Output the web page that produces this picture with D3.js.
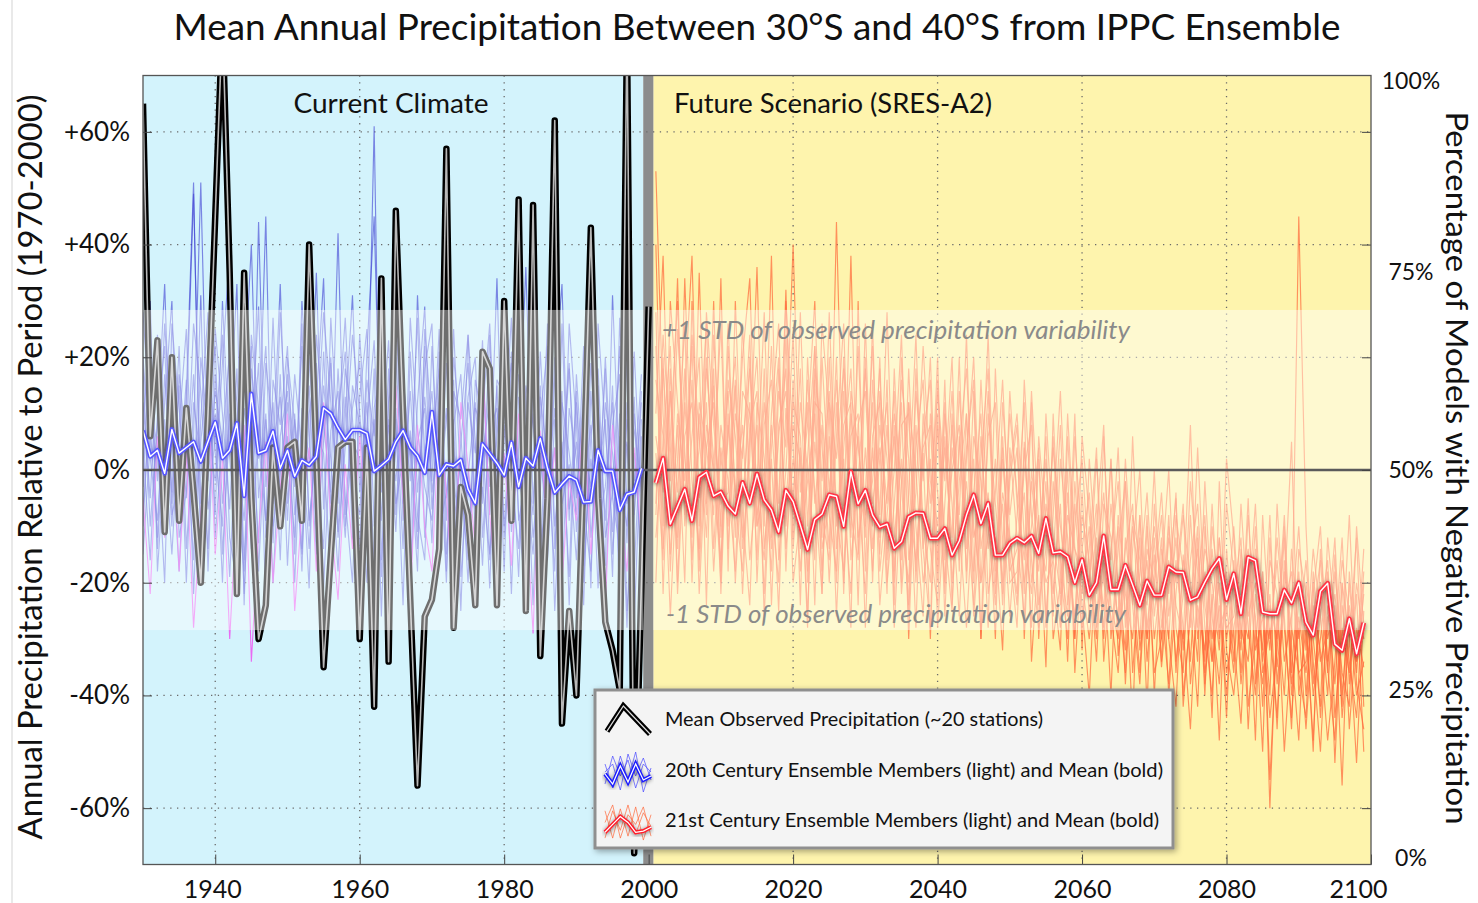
<!DOCTYPE html>
<html><head><meta charset="utf-8">
<script src="https://cdn.jsdelivr.net/npm/d3@7"></script>
<style>
body{margin:0;background:#fff;}
svg{display:block;font-family:Lato,"Open Sans",sans-serif;}
</style>
</head><body>
<svg id="c" width="1478" height="903"></svg>
<script>
// ---------------- DATA ----------------
const xTicks = [1940, 1960, 1980, 2000, 2020, 2040, 2060, 2080, 2100];
const yTicks = [-60, -40, -20, 0, 20, 40, 60];
const rightTicks = [0, 25, 50, 75, 100];
const stdBand = 28.4;

const obsStart = 1930;
const observed = [65, 6, 23, -11, 20, -9, 11, -4, -20, 10,
  45, 80, 35, -22, 35, -5, -30, -24, 4, -10,
  4, 5, -9, 40, 2, -35, -15, 4, 5, 5,
  -30, 4, -42, 34, -34, 46, 10, -23, -56, -26,
  -23, -14, 57, -28, -3, -8, -24, 21, 18, -24,
  30, -9, 48, -25, 47, -33, -5, 62, -45, -25,
  -40, 0, 43, -5, -27, -32, -39, 78, -68, -20, 29];

const ens20Start = 1930;
const ens20Mean = [7, 2.4, 3.5, -0.6, 7.2, 3, 4, 5, 1.5, 5,
  8.5, 2.1, 3.5, 8.3, -4.6, 13.5, 3, 3.5, 6.9, 0.3,
  3.5, -1.1, 1.7, 0.9, 2.4, 11, 10, 7.5, 5.4, 7.1,
  7.1, 6.5, -0.2, 0.8, 1.9, 5, 7, 4, 2.5, -0.5,
  10.3, -0.9, 1, 0.7, 1.8, -3.4, -5.9, 4.6, 2.9, 1.2,
  -0.9, 4.9, -3, 2.1, 0.7, 5.6, 0.3, -4, -2.5, -1.1,
  -1.8, -5.7, -5.6, 3.5, -0.2, -0.2, -7.1, -4.3, -3.9, 0.3];

const m20a = [12,-5,20,3,-15,8,25,-10,5,18, -8,30,2,-12,15,40,-5,10,-20,6, 14,-3,22,-9,4,28,12,-6,18,9,
  -14,21,45,-4,8,-11,16,3,-18,25, 7,-2,11,-15,5,19,-7,2,13,-22, 8,-4,17,6,-12,3,-9,20,-6,1, -16,9,24,-10,-3,12,-20,5,-8,14];
const m20b = [-10,15,-2,26,4,-18,10,49,-6,12, 22,-15,8,33,-24,18,5,-9,27,-4, 6,-20,11,2,35,-7,19,-12,4,24,
  10,-6,-22,14,3,30,-9,7,-14,18, 26,-11,-4,9,-25,12,3,20,-8,15, -18,21,-3,10,28,-13,-5,4,-20,11, 2,-24,14,-7,18,-15,6,-28,10,-4];
const m20c = [28,8,-12,17,-4,22,-14,6,51,-2, 14,5,-19,9,24,-11,44,-3,12,-16, 20,8,-14,26,-5,15,2,-18,9,31,
  -4,12,-17,6,23,-8,16,-2,27,-12, 4,18,-9,25,-3,-16,11,7,-21,16, 13,-7,30,-2,-15,9,22,-10,5,-19, 17,-4,8,-21,12,3,-13,20,-27,6];
const m20d = [-5,-22,6,-12,10,-18,3,-28,-8,14, -15,2,-30,-6,8,-34,-11,5,-20,-3, 10,-25,-7,4,-18,12,-9,-23,1,-14,
  6,-12,-30,3,-16,15,-5,-24,8,-10, -18,9,-4,-26,12,1,-14,20,-8,-22, 3,-17,10,-6,-29,7,-12,4,-20,-2, -9,11,-15,2,-25,8,-6,-18,4,-12];
const m20e = [18,-10,8,33,-6,15,-20,12,2,-14, 25,10,-7,18,-16,6,29,-12,4,13, -9,17,3,-21,24,8,-4,42,-8,11,
  19,-3,9,-19,13,37,-6,4,-11,22, -7,14,28,-10,2,-20,16,9,-3,34, -12,6,-19,15,8,-4,26,-14,12,3, -8,22,-12,4,-17,31,-2,-10,13,-23];
const m20f = [-15,5,24,-8,12,-3,6,-16,20,7, -2,19,39,-14,3,22,-18,9,-6,28, 3,-12,30,7,-15,5,20,-11,13,-6,
  24,2,61,-16,9,-2,14,-20,5,11, -13,21,-5,8,17,-9,-22,10,26,-4, 9,19,-8,-23,14,2,-10,16,33,-7, 5,-13,19,-2,9,-19,27,-6,3,-15];
const m20g = [6,30,-18,2,20,-9,14,51,-12,3, 10,-20,16,4,-9,13,2,45,-13,17, -17,9,-3,15,-12,21,-6,8,27,-2,
  -8,16,6,25,-14,4,20,-12,31,2, 14,-6,19,-2,-12,24,5,-17,10,-8, 20,-11,4,36,-6,15,-16,9,-2,18, -5,14,-21,26,7,-11,10,4,-18,9];
const m20h = [-8,12,4,-20,26,11,-5,17,-11,22, 3,-10,24,12,-22,8,-13,19,7,-9, 17,2,-15,10,19,-21,7,14,-10,5,
  2,-20,11,18,-6,9,-24,21,-4,13, -2,25,-15,4,-8,13,20,-12,7,11, -10,12,2,-14,19,-20,8,-3,14,-24, 12,-6,-18,11,-9,15,-24,12,7,-3];
const m20i = [4,-16,10,22,-8,-2,16,-22,9,28, -12,6,21,-4,-18,24,11,-9,3,33, -6,10,-18,20,-2,-14,27,4,-12,15,
  8,-9,18,-26,12,20,-3,14,-8,-16, 22,-4,9,16,-19,-1,12,-6,24,-10, 5,27,-9,-2,10,-16,14,-25,2,19, -11,4,-3,15,-22,8,17,-13,21,-6];
const m20j = [20,2,-9,12,30,-12,-4,26,14,-7, 6,24,-12,-20,11,2,19,-24,16,8, 22,-8,5,-14,12,34,-11,18,-5,-20,
  13,25,-10,2,-20,11,-14,27,7,-3, -9,12,-18,20,6,-12,-2,23,-16,9, 16,-22,13,4,-8,21,-4,11,-13,26, 8,-17,2,-9,20,-5,-14,9,-2,17];
const m20k = [-3,24,-14,9,-10,17,4,-8,31,-18, 17,-6,10,-3,28,-14,7,22,-10,-1, 12,-15,26,-10,6,3,-19,10,21,-12,
  -16,8,23,-9,18,-6,2,-18,12,29, -4,7,-20,14,9,24,-12,-3,-15,6, 21,-2,-14,8,-24,13,2,-18,26,-9, 14,-20,6,18,-12,-4,22,-25,-8,12];
const ens20Members = [m20a, m20b, m20c, m20e, m20f, m20g, m20h, m20i, m20j, m20k];
const ens20Pink = m20d;

const ens21Start = 2001;
const ens21Mean = [-2.3, 2.1, -9.6, -6.5, -3.4, -9, -1.3, -0.4, -4.6, -3.9,
  -6.4, -7.8, -2.2, -5.9, -0.7, -5.3, -7.1, -11, -3.6, -5.6,
  -9.8, -14.1, -8.8, -7.8, -4.4, -4.7, -10, -0.3, -6, -3.6,
  -8, -10.1, -9.6, -13.9, -12.7, -8.3, -7.6, -7.7, -12.1, -12.1,
  -10.4, -15.1, -12.6, -8, -4.4, -9.5, -5.9, -15.1, -15.1, -13,
  -12.1, -12.9, -11.7, -14.8, -8.6, -14.7, -14.5, -15.4, -20, -15.9,
  -22.2, -20, -11.7, -21.2, -21.2, -16.9, -20.4, -24, -19.7, -22.2,
  -22.2, -17.2, -18.1, -18.2, -23.1, -22.5, -19.9, -17.5, -15.7, -23,
  -18.4, -25.5, -15.5, -16.1, -25.2, -25.5, -25.5, -21.3, -23.6, -20,
  -27, -29.3, -21.5, -20.1, -30.9, -32, -26.4, -32.6, -27.1];

const f1 = [53,10,-15,8,-20,30,-5,12,-18,4, -10,15,-22,6,20,-14,2,-25,11,-6, 18,-20,5,-12,28,-8,-18,10,-3,-22,
  4,-15,16,-28,-2,12,-20,3,-30,8, -12,-25,6,-18,14,-30,-5,-22,2,-15, -28,5,-20,-8,-35,10,-18,-30,-6,-24,
  -40,-12,-25,2,-33,-18,-45,-8,-28,-15, -35,-20,-5,-42,-25,-10,-38,-22,-48,-14, -30,-45,-18,-26,-50,-12,-35,-22,5,-40,
  -28,-48,-20,-36,-15,-44,-30,-52,-25];
const f2 = [10,38,-8,25,2,-12,35,-6,15,-18, 22,-5,8,-16,-2,28,-12,6,18,-20, -8,12,-24,20,-4,16,-10,38,-15,4,
  -18,8,-6,14,-22,-4,24,-14,2,-20, 10,-6,-26,2,20,-14,-4,-30,12,-8, 4,-22,12,-30,-6,-16,8,-24,-10,2,
  -18,-30,6,-22,-10,-38,-14,0,-30,-20, -8,-30,-42,-15,-28,4,-24,-34,-12,-26, -10,-30,-5,-38,-20,-55,-28,-8,-36,-18,
  -40,-22,-10,-35,-48,-20,-30,-12,-42];
const f3 = [-12,5,22,-20,12,-8,4,26,-14,8, -2,-18,14,10,-10,-4,38,-16,0,24, -14,-2,10,-18,6,-20,14,-12,22,-10,
  12,-24,-8,6,-16,18,-10,-26,10,-4, -20,8,-10,-28,-4,10,-22,-12,-32,4, -12,-26,-2,-16,6,-30,-20,0,-36,-14,
  -4,-26,-16,-40,-8,-22,-30,-12,-42,-6, -24,-38,-16,-28,-46,-20,-8,-34,-24,-40, -22,-12,-42,-30,-18,-60,-25,-40,-14,-30,
  -16,-34,-50,-24,-38,-20,-46,-28,-35];
const f4 = [28,-22,14,-4,18,-16,10,-8,30,-12, 6,20,-8,-24,12,2,-14,18,-10,8, 2,-28,18,4,-14,44,-6,-22,8,14,
  -10,20,-20,-6,12,-30,4,16,-14,-24, 6,-16,14,-8,-24,2,18,-18,-6,-26, -8,12,-34,-14,2,-20,-32,6,-18,-28,
  -14,4,-34,-18,-26,2,-20,-36,-10,-30, -18,0,-28,-36,-8,-30,-18,-44,-2,-32, -40,-24,-30,-10,-36,-28,-44,-16,-32,-48,
  -20,-30,-42,-12,-26,-56,-18,-34,-22];
const f5 = [3,-16,30,12,-6,22,-18,8,0,26, -14,10,2,24,-20,8,16,-6,32,-12, 12,0,-16,26,10,-26,4,18,-12,-4,
  22,-12,8,-18,16,2,-28,10,-6,14, -2,20,-18,10,-12,-6,24,-16,4,-20, -18,0,8,-24,-14,4,-10,-20,10,-32,
  2,-16,-28,-6,-20,-32,6,-24,-16,-36, -30,-12,-20,-6,-38,-24,-32,-14,-30,2, -12,-36,-20,-48,-8,-30,-16,-34,-26,-10,
  -32,-14,-26,-40,-18,-32,-8,-38,-46];
const f6 = [-20,18,-2,34,-10,6,20,-24,24,0, 14,-12,26,-4,8,-22,10,26,-18,16, -24,20,-6,8,-20,6,26,-16,-2,18,
  -6,4,-22,18,-10,-20,14,-2,20,-16, 16,-24,4,18,-10,-20,6,12,-22,0, 10,-12,-22,2,-26,-8,14,-16,-26,-4,
  -26,-10,8,-30,-14,-2,-36,-18,-4,-26, -12,-40,-22,-8,-20,-34,-2,-26,-38,-18, -34,-6,-26,-20,-42,-16,-22,-50,-30,45,
  -10,-38,-26,-16,-44,-28,-36,-20,-30];
const f7 = [16,6,-26,2,26,-20,12,4,-8,34, -18,30,-6,12,-16,18,-24,8,14,-8, 28,-10,16,-22,20,-10,2,-28,30,-18,
  16,-8,28,-12,2,-24,18,-10,-20,10, -26,4,-8,24,-18,6,-14,-4,16,-12, -22,16,-8,-18,-2,-26,2,-12,-30,6,
  -8,-22,-12,-16,4,-28,-10,-20,-24,0, -28,-16,-34,-22,8,-28,-14,-20,-32,-6, -18,-28,-34,-14,-24,-40,-6,-28,-44,-22,
  -26,-50,-14,-30,-22,-36,-42,-10,-28];
const f8 = [-6,24,4,-14,14,38,-10,20,-2,-16, 8,-4,20,34,-8,0,-18,14,4,40, -4,8,30,-8,-16,12,-20,6,10,-28,
  6,12,-14,0,24,-16,-4,22,-2,-10, 4,-12,20,-20,6,-2,-28,18,-14,10, -4,-16,14,-10,-20,-16,-28,10,-14,-18,
  -20,2,-20,-26,-36,-12,-24,-8,-34,-18, -4,-26,-12,-32,-16,-6,-28,-40,-16,-28, -26,-16,-46,-22,-32,-8,-38,-24,-18,-36,
  -44,-18,-34,-28,-12,-40,-24,-34,-14];
const f9 = [40,-10,18,-22,6,12,-16,28,8,-6, -4,16,-14,2,36,-10,22,-12,-6,12, 6,-18,22,-2,14,-14,8,12,-24,20,
  -20,14,2,-20,8,10,-18,6,16,-28, -6,14,-14,-2,-20,16,-10,-24,6,-18, -14,-4,-28,6,-10,-22,-6,-34,-2,-20,
  -30,-16,-4,-24,-30,-14,-6,-32,-20,-10, -20,-30,-8,-18,-34,-12,-40,-10,-22,-36, -28,-20,-14,-32,-26,-44,-32,-12,-40,-26,
  -36,-24,-32,-48,-34,-16,-26,-40,-34];
const f10 = [22,-14,6,30,-8,16,-22,4,12,-10, 26,-6,-18,8,14,-26,4,20,-14,2, -12,16,-4,-22,12,2,18,-8,-16,26,
  -14,2,12,-24,20,-6,-16,4,8,-18, 12,-20,-2,10,-26,-8,14,-20,-4,-12, -24,4,-16,-28,10,-12,-22,-4,-30,-8,
  -16,-34,-6,-12,-28,-2,-24,-38,-14,-20, -30,-8,-36,-16,-24,-42,-10,-30,-20,-44, -16,-38,-24,-6,-34,-22,-46,-18,-28,-36,
  -34,-20,-44,-26,-30,-12,-38,-22,-50];
const f11 = [-8,20,-18,10,-2,24,6,-12,18,-22, 10,-20,4,18,-10,12,-6,-20,24,-14, 4,-26,12,10,-8,-18,20,-4,6,-12,
  26,-18,-4,10,-2,-26,8,-14,-28,16, -16,0,8,-14,2,-30,10,-6,-20,14, -6,-20,-10,4,-28,-2,-16,-26,6,-14,
  -20,-6,-30,-14,-2,-26,-18,-30,-8,-40, -14,-22,-4,-40,-26,-14,-34,-6,-28,-24, -36,-14,-28,-40,-18,-32,-12,-26,-46,-14,
  -22,-40,-30,-18,-52,-24,-34,-44,-20];
const f12 = [6,-4,14,-12,34,-2,-14,18,2,-20, 16,6,-12,20,-4,-16,8,-10,30,4, -18,2,22,-14,-6,20,-22,14,4,-8,
  -2,18,-16,8,-20,12,0,-20,-10,20, -22,10,-16,4,16,-20,-12,2,-24,-2, 8,-30,0,-12,-18,6,-24,-8,-14,-22,
  -10,-28,-18,2,-22,-36,-8,-16,-30,-12, -34,-10,-24,-30,-2,-18,-36,-24,-12,-30, -20,-32,-8,-28,-38,-24,-30,-10,-38,-28,
  -46,-26,-16,-34,-24,-42,-20,-36,-18];
const ens21Members = [f1, f2, f3, f4, f5, f6, f7, f8, f9, f10, f11, f12];

// legend glyph shapes (normalised 0..1)
const iconObs = [[0, 0.9], [0.38, 0], [1, 1]];
const iconMean20 = [0.55, 0.8, 0.35, 0.75, 0.3, 0.7, 0.6];
const iconMem20 = [[0.3, 0.9, 0.1, 0.7, 0.0, 1.0, 0.4], [0.8, 0.1, 0.6, 0.2, 0.9, 0.3, 0.5], [0.5, 0.3, 0.95, 0.05, 0.6, 0.15, 0.7]];
const iconMean21 = [0.75, 0.55, 0.35, 0.5, 0.75, 0.72, 0.62];
const iconMem21 = [[0.2, 0.9, 0.15, 0.85, 0.1, 0.95, 0.3], [0.9, 0.2, 0.7, 0.05, 0.8, 0.25, 0.6], [0.5, 0.05, 0.9, 0.3, 0.55, 0.1, 0.85]];

// ---------------- LAYOUT ----------------
const L = 143, R = 1371, T = 75.5, B = 864.5;
const x = d3.scaleLinear().domain([1930, 2100]).range([L, R]);
const y = d3.scaleLinear().domain([-70, 70]).range([B, T]);
const yRight = d3.scaleLinear().domain([0, 25, 50, 75, 100]).range([858, 690, 470, 272, 81]);
const pts = (start, arr) => arr.map((v, i) => [start + i, v]);
const line = d3.line().x(d => x(d[0])).y(d => y(d[1]));
const barL = x(1999.25), barR = x(2000.65);

const svg = d3.select("#c");
const defs = svg.append("defs");
defs.append("clipPath").attr("id", "pc").append("rect")
  .attr("x", L).attr("y", T).attr("width", R - L).attr("height", B - T);
const fg = defs.append("filter").attr("id", "glow").attr("x", "-5%").attr("y", "-30%").attr("width", "110%").attr("height", "160%");
fg.append("feDropShadow").attr("dx", 0).attr("dy", 1).attr("stdDeviation", 2.2)
  .attr("flood-color", "#000").attr("flood-opacity", 0.55);
const fb = defs.append("filter").attr("id", "glowB").attr("x", "-5%").attr("y", "-30%").attr("width", "110%").attr("height", "160%");
fb.append("feDropShadow").attr("dx", 0).attr("dy", 0).attr("stdDeviation", 2)
  .attr("flood-color", "#1010a0").attr("flood-opacity", 0.35);
const fl = defs.append("filter").attr("id", "lshadow").attr("x", "-5%").attr("y", "-10%").attr("width", "115%").attr("height", "130%");
fl.append("feDropShadow").attr("dx", 2).attr("dy", 2).attr("stdDeviation", 3)
  .attr("flood-color", "#000").attr("flood-opacity", 0.35);

svg.append("rect").attr("width", 1478).attr("height", 903).attr("fill", "#fff");
svg.append("line").attr("x1", 12).attr("x2", 12).attr("y1", 0).attr("y2", 903)
  .attr("stroke", "#e2e2e2").attr("stroke-width", 1.5);

// title
svg.append("text").attr("x", 757).attr("y", 40).attr("text-anchor", "middle")
  .attr("font-size", 37).attr("fill", "#111")
  .attr("textLength", 1167).attr("lengthAdjust", "spacingAndGlyphs")
  .text("Mean Annual Precipitation Between 30°S and 40°S from IPPC Ensemble");

const plot = svg.append("g").attr("clip-path", "url(#pc)");
// backgrounds
plot.append("rect").attr("x", L).attr("y", T).attr("width", barL - L).attr("height", B - T).attr("fill", "#d3f3fc");
plot.append("rect").attr("x", barR).attr("y", T).attr("width", R - barR).attr("height", B - T).attr("fill", "#fef4ad");
plot.append("rect").attr("x", barL).attr("y", T).attr("width", barR - barL).attr("height", B - T).attr("fill", "#8c8c8c");

// gridlines
const grid = plot.append("g").attr("stroke", "#6a6a6a").attr("stroke-width", 1.3).attr("stroke-dasharray", "1.3,5.5");
grid.selectAll(".gx").data(xTicks.filter(d => d !== 2000 && d !== 2100)).join("line")
  .attr("x1", d => x(d)).attr("x2", d => x(d)).attr("y1", T).attr("y2", B);
grid.selectAll(".gy").data(yTicks.filter(d => d !== 0)).join("line")
  .attr("x1", L).attr("x2", R).attr("y1", d => y(d)).attr("y2", d => y(d));

// 20th century members
plot.append("g").selectAll("path").data(ens20Members).join("path")
  .attr("d", d => line(pts(ens20Start, d))).attr("fill", "none")
  .attr("stroke", "#3c3cd2").attr("stroke-opacity", 0.6).attr("stroke-width", 1.15);
plot.append("path").attr("d", line(pts(ens20Start, ens20Pink))).attr("fill", "none")
  .attr("stroke", "#f23cf0").attr("stroke-opacity", 0.75).attr("stroke-width", 1.1);
// 21st century members
plot.append("g").selectAll("path").data(ens21Members).join("path")
  .attr("d", d => line(pts(ens21Start, d))).attr("fill", "none")
  .attr("stroke", "#ff6a3c").attr("stroke-opacity", 0.72).attr("stroke-width", 1.15);

// observed
const obsD = line(pts(obsStart, observed));
plot.append("path").attr("d", obsD).attr("fill", "none").attr("stroke", "#000")
  .attr("stroke-width", 6.5).attr("stroke-linejoin", "round");
plot.append("path").attr("d", obsD).attr("fill", "none").attr("stroke", "#b8b8b8")
  .attr("stroke-width", 1.6).attr("stroke-linejoin", "round");

// +/- 1 STD band overlay (both sides of the 2000 bar)
plot.append("g").selectAll("rect").data([[L, barL], [barR, R]]).join("rect")
  .attr("x", d => d[0]).attr("width", d => d[1] - d[0])
  .attr("y", y(stdBand)).attr("height", y(-stdBand) - y(stdBand))
  .attr("fill", "#fff").attr("fill-opacity", 0.43);

// zero line
plot.append("line").attr("x1", L).attr("x2", R).attr("y1", y(0)).attr("y2", y(0))
  .attr("stroke", "#5a5a5a").attr("stroke-width", 2.6);

// ensemble means (bold)
const m20D = line(pts(ens20Start, ens20Mean));
plot.append("path").attr("d", m20D).attr("fill", "none").attr("stroke", "#5656ff")
  .attr("stroke-width", 4.6).attr("stroke-linejoin", "round").attr("filter", "url(#glowB)");
plot.append("path").attr("d", m20D).attr("fill", "none").attr("stroke", "#fff")
  .attr("stroke-width", 1.4).attr("stroke-linejoin", "round");
const m21D = line(pts(ens21Start, ens21Mean));
plot.append("path").attr("d", m21D).attr("fill", "none").attr("stroke", "#ff3445")
  .attr("stroke-width", 4.8).attr("stroke-linejoin", "round").attr("filter", "url(#glow)");
plot.append("path").attr("d", m21D).attr("fill", "none").attr("stroke", "#fff")
  .attr("stroke-width", 1.4).attr("stroke-linejoin", "round");

// band texts
svg.append("text").attr("x", 662).attr("y", 339).attr("font-size", 25).attr("font-style", "italic")
  .attr("fill", "#8a8a8a").attr("textLength", 468).attr("lengthAdjust", "spacingAndGlyphs")
  .text("+1 STD of observed precipitation variability");
svg.append("text").attr("x", 666).attr("y", 623).attr("font-size", 25).attr("font-style", "italic")
  .attr("fill", "#8a8a8a").attr("textLength", 460).attr("lengthAdjust", "spacingAndGlyphs")
  .text("-1 STD of observed precipitation variability");

// panel labels
svg.append("text").attr("x", 391).attr("y", 113).attr("text-anchor", "middle").attr("font-size", 27)
  .attr("fill", "#111").attr("textLength", 195).attr("lengthAdjust", "spacingAndGlyphs").text("Current Climate");
svg.append("text").attr("x", 674).attr("y", 113).attr("font-size", 27)
  .attr("fill", "#111").attr("textLength", 318).attr("lengthAdjust", "spacingAndGlyphs").text("Future Scenario (SRES-A2)");

// axes
const fmtY = d => (d > 0 ? "+" : "") + d + "%";
const ax = svg.append("g").attr("transform", `translate(${L},0)`)
  .call(d3.axisLeft(y).tickValues(yTicks).tickSize(-9).tickPadding(13).tickFormat(fmtY));
ax.select(".domain").remove();
ax.selectAll("text").attr("font-size", 26).attr("font-family", "Lato, sans-serif").attr("fill", "#111");
ax.selectAll("line").attr("stroke", "#444");

const axR = svg.append("g").attr("transform", `translate(${R},0)`)
  .call(d3.axisRight(y).tickValues(yTicks).tickSize(-9).tickFormat(""));
axR.select(".domain").remove();
axR.selectAll("line").attr("stroke", "#444");

const bx = svg.append("g").attr("transform", `translate(0,${B})`)
  .call(d3.axisBottom(x).tickValues(xTicks).tickSize(-10).tickPadding(16).tickFormat(d3.format("d")));
bx.select(".domain").remove();
bx.selectAll("text").attr("font-size", 25).attr("font-family", "Lato, sans-serif").attr("fill", "#111")
  .attr("dx", d => d === 2100 ? -13 : (d === 1940 ? -3 : 0));
bx.selectAll("line").attr("stroke", "#444");

// right percentage labels
svg.append("g").selectAll("text").data(rightTicks).join("text")
  .attr("x", 1411).attr("y", d => yRight(d)).attr("dy", "0.35em").attr("text-anchor", "middle")
  .attr("font-size", 23).attr("fill", "#111").text(d => d + "%");

// plot border
svg.append("rect").attr("x", L).attr("y", T).attr("width", R - L).attr("height", B - T)
  .attr("fill", "none").attr("stroke", "#555").attr("stroke-width", 1.3);

// axis titles
svg.append("text").attr("transform", "translate(42,467) rotate(-90)").attr("text-anchor", "middle")
  .attr("font-size", 32).attr("fill", "#111").attr("textLength", 745).attr("lengthAdjust", "spacingAndGlyphs")
  .text("Annual Precipitation Relative to Period  (1970-2000)");
svg.append("text").attr("transform", "translate(1446,468) rotate(90)").attr("text-anchor", "middle")
  .attr("font-size", 31).attr("fill", "#111").attr("textLength", 713).attr("lengthAdjust", "spacingAndGlyphs")
  .text("Percentage of Models with Negative Precipitation");

// legend
const lg = svg.append("g");
lg.append("rect").attr("x", 595).attr("y", 690).attr("width", 578).attr("height", 158)
  .attr("fill", "#f4f4f4").attr("stroke", "#8f8f8f").attr("stroke-width", 3).attr("filter", "url(#lshadow)");
const lgText = [
  {t: "Mean Observed Precipitation (~20 stations)", y: 726, w: 378},
  {t: "20th Century Ensemble Members (light) and Mean (bold)", y: 777, w: 498},
  {t: "21st Century Ensemble Members (light) and Mean (bold)", y: 827, w: 494}];
lg.selectAll(".lt").data(lgText).join("text").attr("x", 665).attr("y", d => d.y)
  .attr("font-size", 20).attr("fill", "#111").attr("textLength", d => d.w)
  .attr("lengthAdjust", "spacingAndGlyphs").text(d => d.t);

const ix = d3.scaleLinear().domain([0, 1]).range([607, 650]);
const iyO = d3.scaleLinear().domain([0, 1]).range([706, 734]);
const iconLineO = d3.line().x(d => ix(d[0])).y(d => iyO(d[1]));
lg.append("path").attr("d", iconLineO(iconObs)).attr("fill", "none").attr("stroke", "#000").attr("stroke-width", 5.5);
lg.append("path").attr("d", iconLineO(iconObs)).attr("fill", "none").attr("stroke", "#ddd").attr("stroke-width", 1.2);

function icon(mean, members, yTop, yBot, memColor, meanColor) {
  const iy = d3.scaleLinear().domain([0, 1]).range([yTop, yBot]);
  const ixs = d3.scaleLinear().domain([0, mean.length - 1]).range([605, 651]);
  const l = d3.line().x((d, i) => ixs(i)).y(d => iy(d));
  lg.append("g").selectAll("path").data(members).join("path").attr("d", l).attr("fill", "none")
    .attr("stroke", memColor).attr("stroke-opacity", 0.7).attr("stroke-width", 1);
  lg.append("path").attr("d", l(mean)).attr("fill", "none").attr("stroke", meanColor)
    .attr("stroke-width", 4).attr("filter", "url(#glow)");
  lg.append("path").attr("d", l(mean)).attr("fill", "none").attr("stroke", "#fff").attr("stroke-width", 1.2);
}
icon(iconMean20, iconMem20, 752, 792, "#4a4aff", "#1a1aff");
icon(iconMean21, iconMem21, 803, 842, "#ff6a3c", "#ff1a2a");
</script>
</body></html>
